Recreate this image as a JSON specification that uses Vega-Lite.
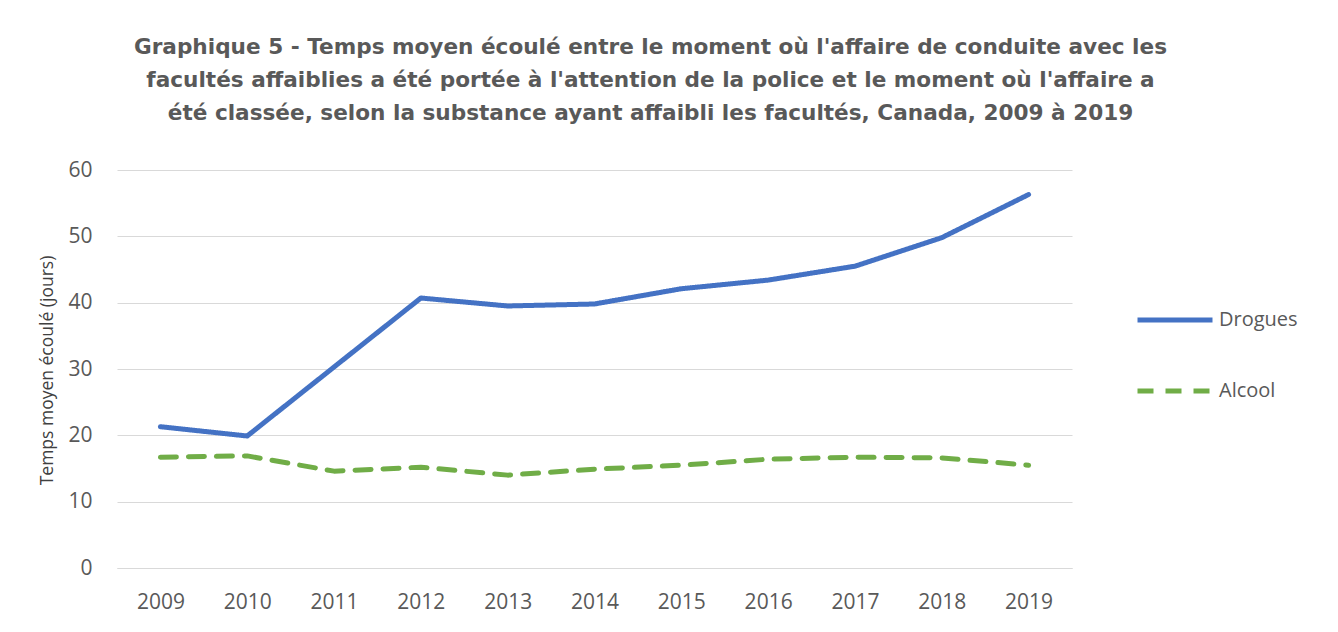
{
  "$schema": "https://vega.github.io/schema/vega-lite/v6.json",
  "width": 955,
  "height": 398,
  "autosize": {"type": "none"},
  "padding": {"left": 117, "top": 170, "right": 266, "bottom": 64},
  "background": "white",
  "config": {
    "view": {"stroke": null},
    "font": "Open Sans"
  },
  "title": {
    "text": [
      "Graphique 5 - Temps moyen écoulé entre le moment où l'affaire de conduite avec les",
      "facultés affaiblies a été portée à l'attention de la police et le moment où l'affaire a",
      "été classée, selon la substance ayant affaibli les facultés, Canada, 2009 à 2019"
    ],
    "fontSize": 21.6,
    "fontWeight": "bold",
    "color": "#595959",
    "font": "DejaVu Sans",
    "anchor": "middle",
    "frame": "group",
    "dx": 56,
    "lineHeight": 33,
    "offset": 34
  },
  "data": {
    "values": [
      {"year": "2009", "substance": "Drogues", "value": 21.3},
      {"year": "2010", "substance": "Drogues", "value": 19.9},
      {"year": "2011", "substance": "Drogues", "value": 30.3},
      {"year": "2012", "substance": "Drogues", "value": 40.7},
      {"year": "2013", "substance": "Drogues", "value": 39.5},
      {"year": "2014", "substance": "Drogues", "value": 39.8},
      {"year": "2015", "substance": "Drogues", "value": 42.1},
      {"year": "2016", "substance": "Drogues", "value": 43.4},
      {"year": "2017", "substance": "Drogues", "value": 45.5},
      {"year": "2018", "substance": "Drogues", "value": 49.8},
      {"year": "2019", "substance": "Drogues", "value": 56.3},
      {"year": "2009", "substance": "Alcool", "value": 16.7},
      {"year": "2010", "substance": "Alcool", "value": 16.9},
      {"year": "2011", "substance": "Alcool", "value": 14.6},
      {"year": "2012", "substance": "Alcool", "value": 15.2},
      {"year": "2013", "substance": "Alcool", "value": 14.0},
      {"year": "2014", "substance": "Alcool", "value": 14.9},
      {"year": "2015", "substance": "Alcool", "value": 15.5},
      {"year": "2016", "substance": "Alcool", "value": 16.4},
      {"year": "2017", "substance": "Alcool", "value": 16.7},
      {"year": "2018", "substance": "Alcool", "value": 16.6},
      {"year": "2019", "substance": "Alcool", "value": 15.5}
    ]
  },
  "mark": {"type": "line", "strokeWidth": 5, "strokeCap": "round", "strokeJoin": "round"},
  "encoding": {
    "x": {
      "field": "year",
      "type": "ordinal",
      "scale": {"type": "point", "padding": 0.5},
      "axis": {
        "title": null,
        "labelAngle": 0,
        "labelFontSize": 21,
        "labelColor": "#595959",
        "labelPadding": 23,
        "ticks": false,
        "domainColor": "#d9d9d9",
        "domainWidth": 1,
        "labelFont": "Open Sans"
      }
    },
    "y": {
      "field": "value",
      "type": "quantitative",
      "scale": {"domain": [0, 60], "nice": false},
      "axis": {
        "title": "Temps moyen écoulé (jours)",
        "titleFontSize": 17.5,
        "titleFontWeight": "normal",
        "titleColor": "#404040",
        "titleFont": "Open Sans",
        "titleX": -70,
        "titleY": 200,
        "titleAlign": "center",
        "titleBaseline": "middle",
        "values": [0, 10, 20, 30, 40, 50, 60],
        "labelFontSize": 21,
        "labelColor": "#595959",
        "labelPadding": 25,
        "labelFont": "Open Sans",
        "ticks": false,
        "domain": false,
        "gridColor": "#d9d9d9",
        "gridWidth": 1
      }
    },
    "color": {
      "field": "substance",
      "type": "nominal",
      "scale": {"domain": ["Drogues", "Alcool"], "range": ["#4472C4", "#70AD47"]},
      "legend": {
        "title": null,
        "orient": "none",
        "legendX": 1018,
        "legendY": 110,
        "symbolType": "stroke",
        "symbolSize": 5625,
        "symbolStrokeWidth": 5,
        "labelFontSize": 20,
        "labelColor": "#595959",
        "labelFont": "Open Sans",
        "labelOffset": 4,
        "rowPadding": 21
      }
    },
    "strokeDash": {
      "field": "substance",
      "type": "nominal",
      "scale": {"domain": ["Drogues", "Alcool"], "range": [[1, 0], [16, 12]]},
      "legend": null
    }
  }
}
